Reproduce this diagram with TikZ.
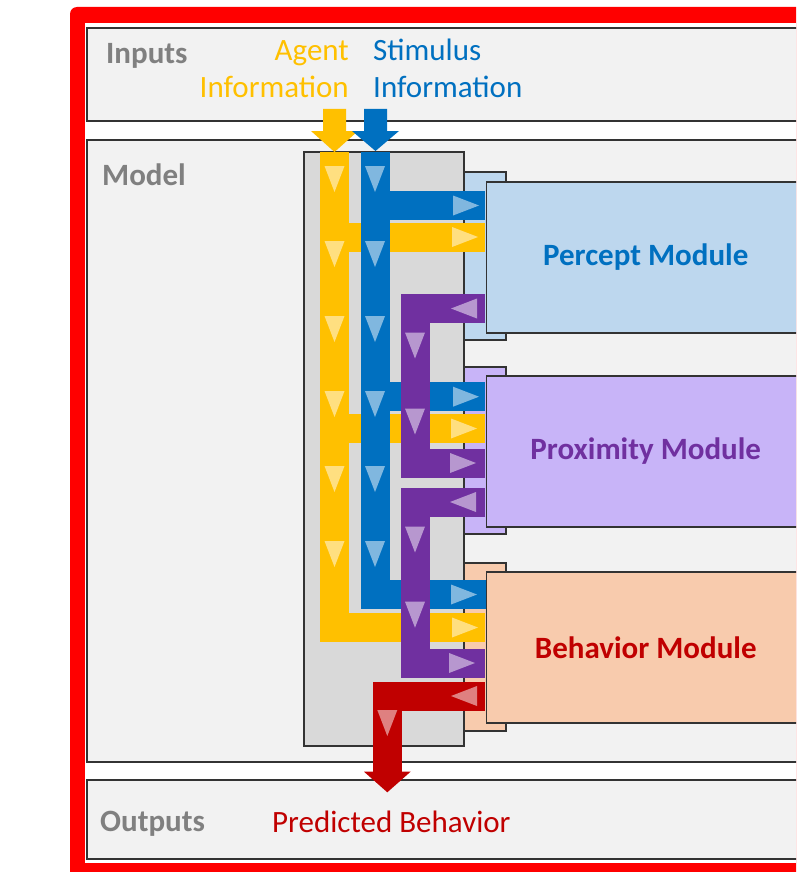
\documentclass[tikz,border=0pt]{standalone}
\usepackage{fontspec}
\setmainfont{Carlito}
\definecolor{cOrange}{HTML}{FFC000}
\definecolor{cBlue}{HTML}{0070C0}
\definecolor{cPurple}{HTML}{7030A0}
\definecolor{cRed}{HTML}{C00000}
\definecolor{cFrame}{HTML}{FF0000}
\definecolor{cPanel}{HTML}{F2F2F2}
\definecolor{cGrayBox}{HTML}{D9D9D9}
\definecolor{cEdge}{HTML}{333333}
\definecolor{cLabel}{HTML}{808080}
\definecolor{cPerFill}{HTML}{BDD7EE}
\definecolor{cProFill}{RGB}{200,180,248}
\definecolor{cBehFill}{HTML}{F8CBAD}
\begin{document}
\begin{tikzpicture}[x=1pt,y=-1pt,
  panel/.style={fill=cPanel,draw=cEdge,line width=1.5pt},
  backbox/.style={draw=cEdge,line width=1.5pt},
  band/.style={line width=29pt,line cap=butt,line join=miter},
  modfront/.style={draw=cEdge,line width=1.5pt,minimum width=319pt,minimum height=151pt,
    anchor=north west,inner sep=0pt,font=\fontsize{31}{37}\selectfont\bfseries},
  lbl/.style={inner sep=0pt,font=\fontsize{31}{37}\selectfont},
  seclbl/.style={lbl,anchor=base west,text=cLabel,font=\fontsize{31}{37}\selectfont\bfseries},
  tri/.pic={\fill[white,fill opacity=0.5] (-13,-10) -- (13,0) -- (-13,10) -- cycle;}
]
\useasboundingbox (0,0) rectangle (796,872);
\clip (0,0) rectangle (796,872);
\fill[white] (0,0) rectangle (796,872);

% red frame
\fill[cFrame,rounded corners=7pt] (70,7) rectangle (840,900);
\fill[white] (85,23) rectangle (840,863);

% panels
\draw[panel] (87,28) rectangle (830,121);
\draw[panel] (87,140) rectangle (830,762);
\draw[panel] (87,780) rectangle (830,859);

\node[seclbl] (inputs) at (106,64) {Inputs};
\node[seclbl] (model) at (102,185) {Model};
\node[seclbl] (outputs) at (100,831) {Outputs};

\node[lbl,anchor=base east,text=cOrange] (agent1) at (349,61) {Agent};
\node[lbl,anchor=base east,text=cOrange] (agent2) at (349,97.7) {Information};
\node[lbl,anchor=base west,text=cBlue] (stim1) at (373,61) {Stimulus};
\node[lbl,anchor=base west,text=cBlue] (stim2) at (373,97.7) {Information};
\node[lbl,anchor=base west,text=cRed] (pred) at (272,832.7) {Predicted Behavior};

% gray model box
\draw[fill=cGrayBox,draw=cEdge,line width=1.5pt] (304,152) rectangle (464,746);

% back boxes of modules
\draw[backbox,fill=cPerFill] (464,172) rectangle (506,340);
\draw[backbox,fill=cProFill] (464,367) rectangle (506,534);
\draw[backbox,fill=cBehFill] (464,563) rectangle (506,731);

% input arrows
\coordinate (oTop) at (334.5,109);
\coordinate (bTop) at (375.5,109);
\fill[cOrange] (oTop) ++(-11.5,0) -- ++(23,0) -- ++(0,22) -- ++(12,0) -- ++(-23.5,21) -- ++(-23.5,-21) -- ++(12,0) -- cycle;
\fill[cBlue] (bTop) ++(-11.5,0) -- ++(23,0) -- ++(0,22) -- ++(12,0) -- ++(-23.5,20) -- ++(-23.5,-20) -- ++(12,0) -- cycle;

% coordinates of bands
\coordinate (oStart) at (334.5,152);
\coordinate (oCorner) at (334.5,627.5);
\coordinate (oBeh) at (485,627.5);
\coordinate (oPerL) at (334.5,237);
\coordinate (oPer) at (485,237);
\coordinate (oProL) at (334.5,428.5);
\coordinate (oPro) at (485,428.5);

\coordinate (bStart) at (375,152);
\coordinate (bCorner) at (375,594.5);
\coordinate (bBeh) at (487,594.5);
\coordinate (bPerL) at (375,205.5);
\coordinate (bPer) at (485,205.5);
\coordinate (bProL) at (375,396.7);
\coordinate (bPro) at (485,396.7);

\coordinate (p1Out) at (485,308.5);
\coordinate (p1A) at (415,308.5);
\coordinate (p1B) at (415,463);
\coordinate (p1In) at (485,463);
\coordinate (p2Out) at (485,502);
\coordinate (p2A) at (415,502);
\coordinate (p2B) at (415,663);
\coordinate (p2In) at (485,663);

\coordinate (rOut) at (485,696);
\coordinate (rA) at (387.3,696);
\coordinate (rB) at (387.3,772);

% orange bands
\draw[band,cOrange] (oStart) -- (oCorner) -- (oBeh);
\draw[band,cOrange] (oPerL) -- (oPer);
\draw[band,cOrange] (oProL) -- (oPro);
% blue bands
\draw[band,cBlue] (bStart) -- (bCorner) -- (bBeh);
\draw[band,cBlue] (bPerL) -- (bPer);
\draw[band,cBlue] (bProL) -- (bPro);
% purple bands
\draw[band,cPurple] (p1Out) -- (p1A) -- (p1B) -- (p1In);
\draw[band,cPurple] (p2Out) -- (p2A) -- (p2B) -- (p2In);
% red band and output arrow
\draw[band,cRed] (rOut) -- (rA) -- (rB);
\fill[cRed] (rB) ++(-23.3,-0.3) -- ++(46.6,0) -- ++(-23.3,20.6) -- cycle;

% module boxes
\node[modfront,fill=cPerFill,text=cBlue] (percept) at (485.5,181) {Percept Module};
\node[modfront,fill=cProFill,text=cPurple] (proximity) at (485.5,375) {Proximity Module};
\node[modfront,fill=cBehFill,text=cRed] (behavior) at (485.5,571) {Behavior Module};

% flow triangles
\foreach \yy in {179,254,329,404,479,554} {
  \pic[rotate=-90] at (334.5,\yy) {tri};
  \pic[rotate=-90] at (375,\yy) {tri};
}
\foreach \yy in {345.5,421.5,539.5,614.7} {
  \pic[rotate=-90] at (415,\yy) {tri};
}
\pic[rotate=-90] at (387.3,723) {tri};
\pic at (466,205.5) {tri};
\pic at (465,237) {tri};
\pic at (466,396.7) {tri};
\pic at (464,428.5) {tri};
\pic at (463,463) {tri};
\pic at (464,594.5) {tri};
\pic at (465,627.5) {tri};
\pic at (462,663) {tri};
\pic[rotate=180] at (464,308.5) {tri};
\pic[rotate=180] at (463,502) {tri};
\pic[rotate=180] at (464,696) {tri};
\end{tikzpicture}
\end{document}
